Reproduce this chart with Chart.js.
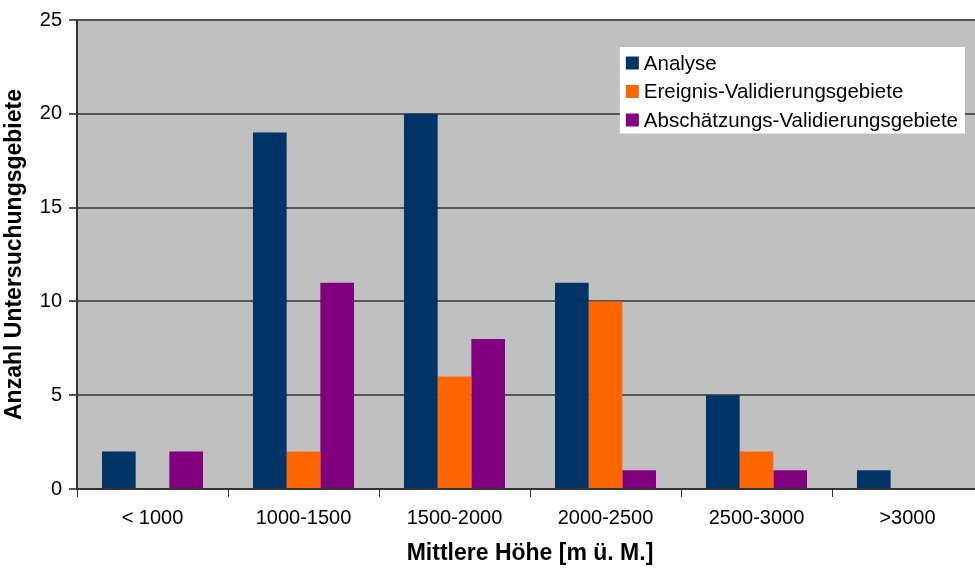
<!DOCTYPE html>
<html>
<head>
<meta charset="utf-8">
<script src="https://cdn.jsdelivr.net/npm/chart.js@4"></script>
<style>
  html, body { margin: 0; padding: 0; background: #fff; overflow: hidden; }
  #chart { display: block; }
</style>
</head>
<body>
<!-- Leinwand etwas breiter als das Fenster: die rechte Kante der Zeichenfläche wird abgeschnitten -->
<canvas id="chart" width="983" height="570"></canvas>
<script>
// Kategorien und Werte
const categories = ['< 1000', '1000-1500', '1500-2000', '2000-2500', '2500-3000', '>3000'];
const seriesNames = ['Analyse', 'Ereignis-Validierungsgebiete', 'Abschätzungs-Validierungsgebiete'];
const analyse = [2, 19, 20, 11, 5, 1];
const ereignis = [0, 2, 6, 10, 2, 0];
const abschaetzung = [2, 11, 8, 1, 1, 0];
const yTicks = [0, 5, 10, 15, 20, 25];
const colors = ['#003366', '#FF6600', '#800080'];

const FONT = '"Liberation Sans", Arial, sans-serif';

// Grauer Hintergrund der Zeichenfläche
const plotBg = {
  id: 'plotBg',
  beforeDraw(chart) {
    const a = chart.chartArea, ctx = chart.ctx;
    ctx.save();
    ctx.fillStyle = '#C0C0C0';
    ctx.fillRect(a.left, a.top, a.right - a.left, a.bottom - a.top);
    ctx.restore();
  }
};

// Legende als weisser Kasten oben rechts
const boxLegend = {
  id: 'boxLegend',
  afterDraw(chart) {
    const ctx = chart.ctx, a = chart.chartArea;
    const sets = chart.data.datasets;
    ctx.save();
    ctx.font = '20.5px ' + FONT;
    let maxW = 0;
    sets.forEach(ds => { maxW = Math.max(maxW, ctx.measureText(ds.label).width); });
    const sq = 13, rowH = 28.5;
    const w = 6 + sq + 5 + maxW + 7;
    const h = sets.length * rowH + 1;
    const x = 965 - w;
    const y = a.top + 27;
    ctx.fillStyle = '#fff';
    ctx.fillRect(x, y, w, h);
    ctx.textBaseline = 'middle';
    sets.forEach((ds, i) => {
      const cy = y + 16 + i * rowH;
      ctx.fillStyle = ds.backgroundColor;
      ctx.fillRect(x + 6, cy - sq / 2, sq, sq);
      ctx.fillStyle = '#000';
      ctx.fillText(ds.label, x + 6 + sq + 5, cy + 1);
    });
    ctx.restore();
  }
};

new Chart(document.getElementById('chart'), {
  type: 'bar',
  data: {
    labels: categories,
    datasets: [
      { label: seriesNames[0], data: analyse, backgroundColor: colors[0] },
      { label: seriesNames[1], data: ereignis, backgroundColor: colors[1] },
      { label: seriesNames[2], data: abschaetzung, backgroundColor: colors[2] }
    ]
  },
  options: {
    responsive: false,
    animation: false,
    layout: { padding: { top: 20, right: 0, left: 0, bottom: 0 } },
    datasets: {
      bar: { categoryPercentage: 0.669, barPercentage: 1.0, borderWidth: 0 }
    },
    plugins: {
      legend: { display: false },
      tooltip: { enabled: false }
    },
    scales: {
      x: {
        grid: { drawOnChartArea: false, drawTicks: true, tickLength: 8, color: '#333', offset: true },
        border: { color: '#333', width: 2 },
        ticks: { color: '#000', font: { family: FONT, size: 20 }, padding: 9, maxRotation: 0 },
        title: {
          display: true,
          text: 'Mittlere Höhe [m ü. M.]',
          color: '#000',
          font: { family: FONT, size: 23, weight: 'bold' },
          padding: { top: 0, bottom: 3 }
        },
        afterFit(scale) { scale.height = 81; }
      },
      y: {
        min: 0,
        max: 25,
        afterBuildTicks(scale) { scale.ticks = yTicks.map(v => ({ value: v })); },
        grid: { color: '#555', lineWidth: 2, tickLength: 8 },
        border: { color: '#333', width: 2 },
        ticks: { color: '#000', font: { family: FONT, size: 20 }, padding: 7 },
        title: {
          display: true,
          text: 'Anzahl Untersuchungsgebiete',
          color: '#000',
          font: { family: FONT, size: 23, weight: 'bold' },
          padding: { top: 1, bottom: 0 }
        },
        afterFit(scale) { scale.width = 77; }
      }
    }
  },
  plugins: [plotBg, boxLegend]
});
</script>
</body>
</html>
